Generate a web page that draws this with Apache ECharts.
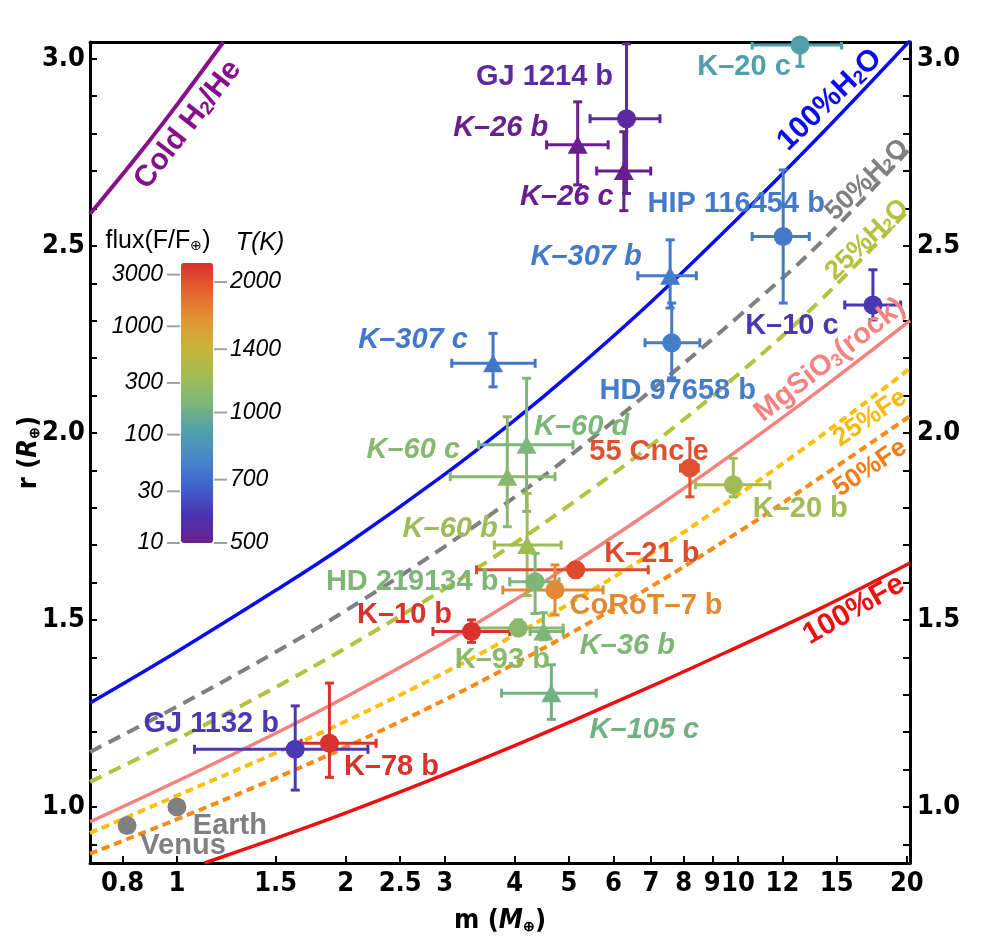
<!DOCTYPE html>
<html><head><meta charset="utf-8">
<script src="https://cdn.jsdelivr.net/npm/echarts@6/dist/echarts.min.js"></script>
<style>html,body{margin:0;padding:0;background:#fff}#main{width:1000px;height:949px}</style>
</head><body><div id="main"></div>
<script>
// ================= DATA =================
const X_TICKS = [0.8, 1, 1.5, 2, 2.5, 3, 4, 5, 6, 7, 8, 9, 10, 12, 15, 20];
const Y_LABELS = [1.0, 1.5, 2.0, 2.5, 3.0];
const Y_TICKS = [0.9, 1.0, 1.1, 1.2, 1.3, 1.4, 1.5, 1.6, 1.7, 1.8, 1.9, 2.0, 2.1, 2.2, 2.3, 2.4, 2.5, 2.6, 2.7, 2.8, 2.9, 3.0];

// model curves: [mass (M_earth), radius (R_earth)]
const curveColdH2He = [[0.7, 2.585], [0.85, 2.74], [1.0, 2.877], [1.21, 3.045]];
const curveH2O100 = [[0.7, 1.278], [1, 1.415], [1.5, 1.579], [2, 1.701], [3, 1.889], [4, 2.034], [5, 2.155], [7, 2.350], [10, 2.574], [14, 2.795], [20.26, 3.049]];
const curveH2O50 = [[0.7, 1.147], [1, 1.268], [1.5, 1.414], [2, 1.525], [3, 1.696], [4, 1.828], [5, 1.937], [7, 2.113], [10, 2.310], [14, 2.507], [20.26, 2.760]];
const curveH2O25 = [[0.7, 1.067], [1, 1.181], [1.5, 1.320], [2, 1.425], [3, 1.583], [4, 1.705], [5, 1.806], [7, 1.967], [10, 2.156], [14, 2.353], [20.26, 2.600]];
const curveRock = [[0.7, 0.96], [1, 1.0685], [1.5, 1.197], [2, 1.294], [3, 1.440], [4, 1.553], [5, 1.645], [7, 1.791], [10, 1.954], [14, 2.115], [20.26, 2.300]];
const curveFe25 = [[0.7, 0.93], [1, 1.030], [1.5, 1.144], [2, 1.229], [3, 1.359], [4, 1.460], [5, 1.543], [7, 1.677], [10, 1.834], [14, 1.990], [20.26, 2.172]];
const curveFe50 = [[0.7, 0.875], [1, 0.967], [1.5, 1.077], [2, 1.160], [3, 1.286], [4, 1.383], [5, 1.462], [7, 1.589], [10, 1.734], [14, 1.880], [20.26, 2.045]];
const curveFe100 = [[1.12, 0.85], [1.5, 0.916], [2, 0.984], [3, 1.087], [4, 1.164], [5, 1.226], [7, 1.322], [10, 1.428], [14, 1.530], [20.26, 1.652]];

// planets
const planetNames = ['GJ 1214 b', 'K–26 b', 'K–26 c', 'K–20 c', 'HIP 116454 b', 'K–10 c', 'K–307 b', 'K–307 c', 'HD 97658 b', 'K–60 d', 'K–60 c', 'K–60 b', '55 Cnc e', 'K–20 b', 'K–21 b', 'HD 219134 b', 'CoRoT–7 b', 'K–10 b', 'K–93 b', 'K–36 b', 'K–105 c', 'GJ 1132 b', 'K–78 b'];
const planetMethod = ['RV', 'TTV', 'TTV', 'RV', 'RV', 'RV', 'TTV', 'TTV', 'RV', 'TTV', 'TTV', 'TTV', 'RV', 'RV', 'RV', 'RV', 'RV', 'RV', 'RV', 'TTV', 'TTV', 'RV', 'RV'];
const planetMass =       [6.33, 5.18, 6.26, 12.9, 12.04, 17.4, 7.57, 3.66, 7.62, 4.20, 3.88, 4.21, 8.21, 9.81, 5.14, 4.35, 4.72, 3.35, 4.06, 4.50, 4.65, 1.625, 1.87];
const planetMassLow =    [5.45, 4.56, 5.60, 10.6, 10.6, 15.5, 6.63, 3.09, 6.83, 3.45, 3.07, 3.68, 7.90, 8.40, 3.42, 3.92, 3.81, 2.86, 3.35, 4.26, 3.79, 1.075, 1.665];
const planetMassHigh =   [7.26, 5.87, 6.99, 15.3, 13.4, 19.5, 8.43, 4.35, 8.55, 5.08, 4.72, 4.84, 8.50, 11.4, 6.92, 4.80, 5.75, 3.92, 4.88, 4.88, 5.59, 2.19, 2.265];
const planetRadius =     [2.84, 2.77, 2.70, 3.037, 2.525, 2.342, 2.42, 2.186, 2.241, 1.968, 1.883, 1.70, 1.906, 1.861, 1.634, 1.602, 1.58, 1.469, 1.478, 1.469, 1.304, 1.154, 1.17];
const planetRadiusLow =  [2.64, 2.663, 2.594, 2.98, 2.347, 2.302, 2.334, 2.123, 2.147, 1.79, 1.749, 1.565, 1.829, 1.829, 1.615, 1.517, 1.513, 1.44, 1.46, 1.447, 1.234, 1.045, 1.079];
const planetRadiusHigh = [3.04, 2.885, 2.805, 3.10, 2.703, 2.436, 2.516, 2.266, 2.347, 2.146, 2.043, 1.838, 1.985, 1.932, 1.653, 1.678, 1.647, 1.50, 1.50, 1.519, 1.38, 1.27, 1.331];
const planetTemp =       [540, 500, 500, 900, 740, 585, 740, 730, 750, 1050, 1100, 1200, 2000, 1200, 2050, 1060, 1700, 2200, 1120, 1060, 1020, 590, 2200];

const solarNames = ['Earth', 'Venus'];
const solarMass = [1.0, 0.815];
const solarRadius = [1.0, 0.95];

// colour bar
const CB_T_MIN = 500, CB_T_MAX = 2213;
const CB_T_TICKS = [2000, 1400, 1000, 700, 500];
const CB_FLUX_TICKS = [3000, 1000, 300, 100, 30, 10];
const CB_FLUX_AT_TMIN = 10;
const CB_COLORS = ['#6a1f8e', '#4b34b0', '#3f62cc', '#4688c8', '#52a0aa', '#7cb67a', '#a3bd52', '#c9b43c', '#e29437', '#e3622e', '#d8302c'];

// ================= LAYOUT / STYLE =================
const FONT = '"Liberation Sans", Arial, sans-serif';
const NARROW = '"Liberation Sans Narrow", "DejaVu Sans Condensed", "Liberation Sans", sans-serif';
const GRID = { left: 90, right: 90, top: 42, bottom: 86 };
const X_MIN = 0.7, X_MAX = 20.26, Y_MIN = 0.85, Y_MAX = 3.045;

const LABEL_OFFSET = [[-82, -42], [-77, -17], [-57, 26], [-56, 22], [-47, -32], [-81, 21], [-84, -19], [-80, -23], [6, 48], [55, -18], [-94, -27], [-77, -16], [-41, -16], [67, 24], [76, -16], [-123, 0], [91, 16], [-67, -16], [-16, 32], [84, 15], [93, 37], [-84, -25], [62, 24]];
const SOLAR_OFFSET = [[53, 19], [56, 20]];

const CURVE_STYLE = [
  { data: curveColdH2He, color: '#85108a', width: 4, type: 'solid' },
  { data: curveH2O100, color: '#0b0bef', width: 3.5, type: 'solid' },
  { data: curveH2O50, color: '#808080', width: 4, type: [13, 8] },
  { data: curveH2O25, color: '#b5c23e', width: 4, type: [13, 8] },
  { data: curveRock, color: '#f6827f', width: 3.5, type: 'solid' },
  { data: curveFe25, color: '#fdc00a', width: 4, type: [8, 5] },
  { data: curveFe50, color: '#fb8a14', width: 4, type: [8, 5] },
  { data: curveFe100, color: '#ee1010', width: 3.5, type: 'solid' }
];
// curve labels: anchor in data coords, rotation in degrees
const CURVE_LABELS = [
  { t: '{a|Cold H}{s|2}{a|/He}', at: [1.046, 2.824], rot: 52, color: '#85108a', size: 30 },
  { t: '{a|100%H}{s|2}{a|O}', at: [14.58, 2.89], rot: 44, color: '#0b0bef', size: 30 },
  { t: '{a|50%H}{s|2}{a|O}', at: [17.0, 2.676], rot: 44, color: '#808080', size: 27 },
  { t: '{a|25%H}{s|2}{a|O}', at: [17.0, 2.516], rot: 44, color: '#b5c23e', size: 27 },
  { t: '{a|MgSiO}{s|3}{a|(rock)}', at: [14.58, 2.195], rot: 38, color: '#f6827f', size: 29 },
  { t: '{a|25%Fe}', at: [17.2, 2.04], rot: 34, color: '#f9b90a', size: 26 },
  { t: '{a|50%Fe}', at: [17.2, 1.906], rot: 34, color: '#f57c13', size: 26 },
  { t: '{a|100%Fe}', at: [16.1, 1.527], rot: 30, color: '#ee1010', size: 30 }
];
const CB = { left: 181, top: 263, width: 32, height: 280 };

// ================= BUILD =================
const logT = planetTemp.map(t => Math.log10(t));
const LOGT_MIN = Math.log10(CB_T_MIN), LOGT_MAX = Math.log10(CB_T_MAX);

const errData = planetNames.map((n, i) => ({
  name: n,
  value: [planetMass[i], planetRadius[i], logT[i], planetMassLow[i], planetMassHigh[i], planetRadiusLow[i], planetRadiusHigh[i]]
}));
function pointItems(method) {
  const out = [];
  planetNames.forEach((n, i) => {
    if (planetMethod[i] !== method) return;
    out.push({ name: n, value: [planetMass[i], planetRadius[i], logT[i]], label: { offset: LABEL_OFFSET[i] } });
  });
  return out;
}
const solarItems = solarNames.map((n, i) => ({ name: n, value: [solarMass[i], solarRadius[i]], label: { offset: SOLAR_OFFSET[i] } }));

function renderErr(params, api) {
  const m = api.value(0), r = api.value(1);
  const p = api.coord([m, r]);
  const pl = api.coord([api.value(3), r]);
  const ph = api.coord([api.value(4), r]);
  const pb = api.coord([m, api.value(5)]);
  const pt = api.coord([m, api.value(6)]);
  const color = api.visual('color');
  const st = { stroke: color, lineWidth: 3 };
  const c = 4.5;
  const L = (x1, y1, x2, y2) => ({ type: 'line', shape: { x1, y1, x2, y2 }, style: st });
  return {
    type: 'group', children: [
      L(pl[0], p[1], ph[0], p[1]),
      L(p[0], pb[1], p[0], pt[1]),
      L(pl[0], p[1] - c, pl[0], p[1] + c),
      L(ph[0], p[1] - c, ph[0], p[1] + c),
      L(p[0] - c, pb[1], p[0] + c, pb[1]),
      L(p[0] - c, pt[1], p[0] + c, pt[1])
    ]
  };
}

const fmt = v => String(parseFloat(Number(v).toPrecision(3)));
const axisLineStyle = { color: '#000', width: 3 };

const series = [];
CURVE_STYLE.forEach(cs => series.push({
  type: 'line', data: cs.data, showSymbol: false, smooth: 0.4, silent: true, clip: true,
  lineStyle: { color: cs.color, width: cs.width, type: cs.type }, z: 2
}));
const errIdx = series.length;
series.push({ type: 'custom', renderItem: renderErr, data: errData, encode: { x: 0, y: 1 }, clip: true, z: 3, silent: true });
const labelBase = { show: true, position: 'inside', formatter: '{b}', color: 'inherit', fontFamily: FONT, fontWeight: 'bold', fontSize: 29, opacity: 1 };
const circIdx = series.length;
series.push({ type: 'scatter', symbol: 'circle', symbolSize: 19, data: pointItems('RV'), z: 4, itemStyle: { opacity: 1 }, label: Object.assign({}, labelBase), silent: true });
const triIdx = series.length;
series.push({ type: 'scatter', symbol: 'triangle', symbolSize: [20, 18], data: pointItems('TTV'), z: 4, itemStyle: { opacity: 1 }, label: Object.assign({}, labelBase, { fontStyle: 'italic' }), silent: true });
series.push({ type: 'scatter', symbol: 'circle', symbolSize: 19, data: solarItems, z: 4, itemStyle: { color: '#808080', opacity: 1 },
  label: Object.assign({}, labelBase, { color: '#808080' }), silent: true });

const nameRich = {
  n: { fontFamily: NARROW, fontWeight: 'bold', fontSize: 27, color: '#000' },
  i: { fontFamily: NARROW, fontWeight: 'bold', fontStyle: 'italic', fontSize: 27, color: '#000' },
  s: { fontFamily: FONT, fontWeight: 'bold', fontSize: 14, color: '#000', verticalAlign: 'bottom', lineHeight: 10 }
};

const option = {
  animation: false,
  backgroundColor: '#fff',
  grid: Object.assign({ containLabel: false, outerBoundsMode: 'none' }, GRID),
  xAxis: [{
    type: 'log', logBase: 10, min: X_MIN, max: X_MAX, position: 'bottom',
    axisLine: { show: true, lineStyle: axisLineStyle },
    axisTick: { show: true, inside: true, length: 7, customValues: X_TICKS, lineStyle: { color: '#000', width: 2 } },
    minorTick: { show: false },
    axisLabel: { customValues: X_TICKS, formatter: fmt, margin: 7, color: '#000', fontFamily: NARROW, fontWeight: 'bold', fontSize: 27 },
    splitLine: { show: false },
    name: '{n|m (}{i|M}{s|⊕}{n|)}', nameLocation: 'middle', nameGap: 44, nameMoveOverlap: false,
    nameTextStyle: { rich: nameRich }
  }, {
    type: 'log', logBase: 10, min: X_MIN, max: X_MAX, position: 'top',
    axisLine: { show: true, lineStyle: axisLineStyle }, axisTick: { show: false }, axisLabel: { show: false }, splitLine: { show: false }
  }],
  yAxis: [0, 1].map(k => ({
    type: 'value', min: Y_MIN, max: Y_MAX, position: k === 0 ? 'left' : 'right',
    axisLine: { show: true, lineStyle: axisLineStyle },
    axisTick: { show: true, inside: true, length: 7, customValues: Y_TICKS, lineStyle: { color: '#000', width: 2 } },
    axisLabel: { customValues: Y_LABELS, formatter: v => Number(v).toFixed(1), margin: k === 0 ? 5 : 7, color: '#000', fontFamily: NARROW, fontWeight: 'bold', fontSize: 27 },
    splitLine: { show: false },
    name: k === 0 ? '{n|r (}{i|R}{s|⊕}{n|)}' : '', nameLocation: 'middle', nameGap: 48, nameMoveOverlap: false,
    nameTextStyle: { rich: nameRich }
  })),
  visualMap: {
    type: 'continuous', dimension: 2, min: LOGT_MIN, max: LOGT_MAX, seriesIndex: [errIdx, circIdx, triIdx],
    inRange: { color: CB_COLORS }, calculable: false, hoverLink: false, padding: 0,
    left: CB.left, top: CB.top, itemWidth: CB.width, itemHeight: CB.height, text: null, orient: 'vertical'
  },
  series: series
};

const chart = echarts.init(document.getElementById('main'));
chart.setOption(option);

// ---- graphics: colour bar ticks/labels and curve labels ----
function cbY(lt) { return CB.top + CB.height * (LOGT_MAX - lt) / (LOGT_MAX - LOGT_MIN); }
const logT0 = LOGT_MIN - Math.log10(CB_FLUX_AT_TMIN) / 4;
const g = [];
const cbLabelStyle = { fontFamily: FONT, fontStyle: 'italic', fontSize: 23, fill: '#000' };
CB_FLUX_TICKS.forEach(f => {
  const y = cbY(logT0 + Math.log10(f) / 4);
  g.push({ type: 'line', shape: { x1: CB.left - 14, y1: y, x2: CB.left - 1, y2: y }, style: { stroke: '#a0a0a0', lineWidth: 2 } });
  g.push({ type: 'text', x: CB.left - 18, y: y, style: Object.assign({ text: String(f), align: 'right', verticalAlign: 'middle' }, cbLabelStyle) });
});
CB_T_TICKS.forEach(t => {
  const y = cbY(Math.log10(t));
  const xr = CB.left + CB.width;
  g.push({ type: 'line', shape: { x1: xr + 1, y1: y, x2: xr + 14, y2: y }, style: { stroke: '#a0a0a0', lineWidth: 2 } });
  g.push({ type: 'text', x: xr + 17, y: y, style: Object.assign({ text: String(t), align: 'left', verticalAlign: 'middle' }, cbLabelStyle) });
});
g.push({ type: 'text', x: 158, y: 241, style: { text: '{n|flux(F/F}{s|⊕}{n|)}', align: 'center', verticalAlign: 'middle',
  rich: { n: { fontFamily: FONT, fontSize: 25, fill: '#000' }, s: { fontFamily: FONT, fontSize: 14, fill: '#000', verticalAlign: 'bottom', lineHeight: 8 } } } });
g.push({ type: 'text', x: 260, y: 243, style: { text: 'T(K)', align: 'center', verticalAlign: 'middle', fontFamily: FONT, fontStyle: 'italic', fontSize: 25, fill: '#000' } });

CURVE_LABELS.forEach(cl => {
  const p = chart.convertToPixel({ xAxisIndex: 0, yAxisIndex: 0 }, cl.at);
  g.push({
    type: 'text', x: p[0], y: p[1], rotation: cl.rot * Math.PI / 180, z: 10,
    style: {
      text: cl.t, align: 'center', verticalAlign: 'middle',
      rich: {
        a: { fontFamily: FONT, fontWeight: 'bold', fontSize: cl.size, fill: cl.color },
        s: { fontFamily: FONT, fontWeight: 'bold', fontSize: Math.round(cl.size * 0.62), fill: cl.color, verticalAlign: 'bottom', lineHeight: Math.round(cl.size * 0.4) }
      }
    }
  });
});
chart.setOption({ graphic: g });
</script>
</body></html>
